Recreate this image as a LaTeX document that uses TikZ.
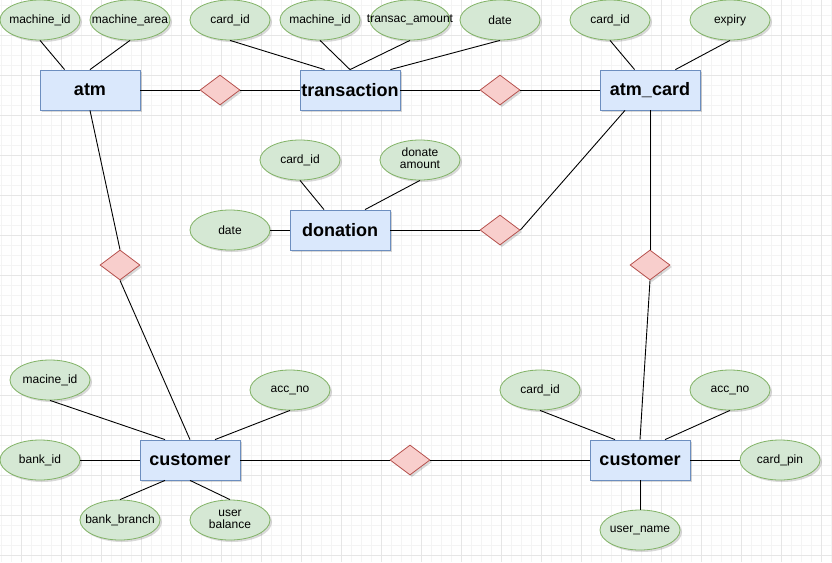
\documentclass[tikz,border=0pt]{standalone}
\usepackage{fontspec}
\setmainfont{Liberation Sans}
\usetikzlibrary{shapes.geometric,shadows}
\definecolor{entfill}{HTML}{DAE8FC}
\definecolor{entline}{HTML}{6C8EBF}
\definecolor{attfill}{HTML}{D5E8D4}
\definecolor{attline}{HTML}{82B366}
\definecolor{relfill}{HTML}{F8CECC}
\definecolor{relline}{HTML}{B85450}
\definecolor{gridminor}{HTML}{F4F4F4}
\definecolor{gridmajor}{HTML}{E6E6E6}
\newcommand\attr[1]{\makebox[0pt]{#1}}
\newcommand\attrtwo[2]{\makebox[0pt]{\begin{tabular}{@{}c@{}}#1\\[-2pt]#2\end{tabular}}}
\begin{document}
\begin{tikzpicture}[x=1pt,y=-1pt,
  dshadow/.style={drop shadow={shadow xshift=2pt,shadow yshift=-2pt,opacity=0.15,fill=black}},
  entity/.style={rectangle,draw=entline,fill=entfill,minimum width=100pt,minimum height=40pt,inner sep=0pt,line width=0.8pt,font=\fontsize{18}{20}\selectfont\bfseries,dshadow},
  attribute/.style={ellipse,draw=attline,fill=attfill,minimum width=80pt,minimum height=40pt,inner sep=0pt,line width=0.8pt,font=\fontsize{12}{14}\selectfont,dshadow},
  relation/.style={diamond,draw=relline,fill=relfill,minimum width=40pt,minimum height=30pt,inner sep=0pt,line width=0.8pt,dshadow},
  link/.style={draw=black,line width=0.9pt}]
\useasboundingbox (0,0) rectangle (832,562);
\fill[white] (0,0) rectangle (832,562);
% grid
\foreach \x in {1,11,...,831} \draw[gridminor,line width=0.6pt] (\x,0) -- (\x,562);
\foreach \y in {5,15,...,561} \draw[gridminor,line width=0.6pt] (0,\y) -- (832,\y);
\foreach \x in {21,61,...,821} \draw[gridmajor,line width=0.8pt] (\x,0) -- (\x,562);
\foreach \y in {35,75,...,555} \draw[gridmajor,line width=0.8pt] (0,\y) -- (832,\y);

% entities
\node[entity] (atm) at (90,90) {atm};
\node[entity] (trans) at (350,90) {transaction};
\node[entity] (card) at (650,90) {atm\_card};
\node[entity] (don) at (340,230) {donation};
\node[entity] (custL) at (190,460) {customer};
\node[entity] (custR) at (640,460) {customer};

% relationships
\node[relation] (r1) at (220,90) {};
\node[relation] (r2) at (500,90) {};
\node[relation] (r3) at (500,230) {};
\node[relation] (r4) at (120,265) {};
\node[relation] (r5) at (650,265) {};
\node[relation] (r6) at (410,460) {};

% attributes
\node[attribute] (a1) at (40,20) {\attr{machine\_id}};
\node[attribute] (a2) at (130,20) {\attr{machine\_area}};
\node[attribute] (a3) at (230,20) {\attr{card\_id}};
\node[attribute] (a4) at (320,20) {\attr{machine\_id}};
\node[attribute] (a5) at (410,20) {\attr{transac\_amount}};
\node[attribute] (a6) at (500,20) {\attr{date}};
\node[attribute] (a7) at (610,20) {\attr{card\_id}};
\node[attribute] (a8) at (730,20) {\attr{expiry}};
\node[attribute] (a9) at (300,160) {\attr{card\_id}};
\node[attribute] (a10) at (420,160) {\attrtwo{donate}{amount}};
\node[attribute] (a11) at (230,230) {\attr{date}};
\node[attribute] (a12) at (50,380) {\attr{macine\_id}};
\node[attribute] (a13) at (290,390) {\attr{acc\_no}};
\node[attribute] (a14) at (40,460) {\attr{bank\_id}};
\node[attribute] (a15) at (120,520) {\attr{bank\_branch}};
\node[attribute] (a16) at (230,520) {\attrtwo{user}{balance}};
\node[attribute] (a17) at (540,390) {\attr{card\_id}};
\node[attribute] (a18) at (730,390) {\attr{acc\_no}};
\node[attribute] (a19) at (780,460) {\attr{card\_pin}};
\node[attribute] (a20) at (640,530) {\attr{user\_name}};

% connectors
\draw[link] (a1.south) -- ([xshift=25pt]atm.north west);
\draw[link] (a2.south) -- (atm.north);
\draw[link] (a3.south) -- ([xshift=25pt]trans.north west);
\draw[link] (a4.south) -- (trans.north);
\draw[link] (a5.south) -- (trans.north);
\draw[link] (a6.south) -- ([xshift=-10pt]trans.north east);
\draw[link] (a7.south) -- ([xshift=35pt]card.north west);
\draw[link] (a8.south) -- ([xshift=-25pt]card.north east);
\draw[link] (atm.east) -- (r1.west);
\draw[link] (r1.east) -- (trans.west);
\draw[link] (trans.east) -- (r2.west);
\draw[link] (r2.east) -- (card.west);
\draw[link] ([xshift=-25pt]card.south) -- (r3.east);
\draw[link] (don.east) -- (r3.west);
\draw[link] (a11.east) -- (don.west);
\draw[link] (a9.south) -- ([xshift=-16pt]don.north);
\draw[link] (a10.south) -- ([xshift=25pt]don.north);
\draw[link] (atm.south) -- (r4.north);
\draw[link] (r4.south) -- (custL.north);
\draw[link] (card.south) -- (r5.north);
\draw[link] (r5.south) -- (custR.north);
\draw[link] (a12.south) -- ([xshift=-25pt]custL.north);
\draw[link] (a13.south) -- ([xshift=25pt]custL.north);
\draw[link] (a14.east) -- (custL.west);
\draw[link] (a15.north) -- ([xshift=-25pt]custL.south);
\draw[link] (a16.north) -- (custL.south);
\draw[link] (custL.east) -- (r6.west);
\draw[link] (r6.east) -- (custR.west);
\draw[link] (a17.south) -- ([xshift=-25pt]custR.north);
\draw[link] (a18.south) -- ([xshift=25pt]custR.north);
\draw[link] (a19.west) -- (custR.east);
\draw[link] (a20.north) -- (custR.south);
\end{tikzpicture}
\end{document}
